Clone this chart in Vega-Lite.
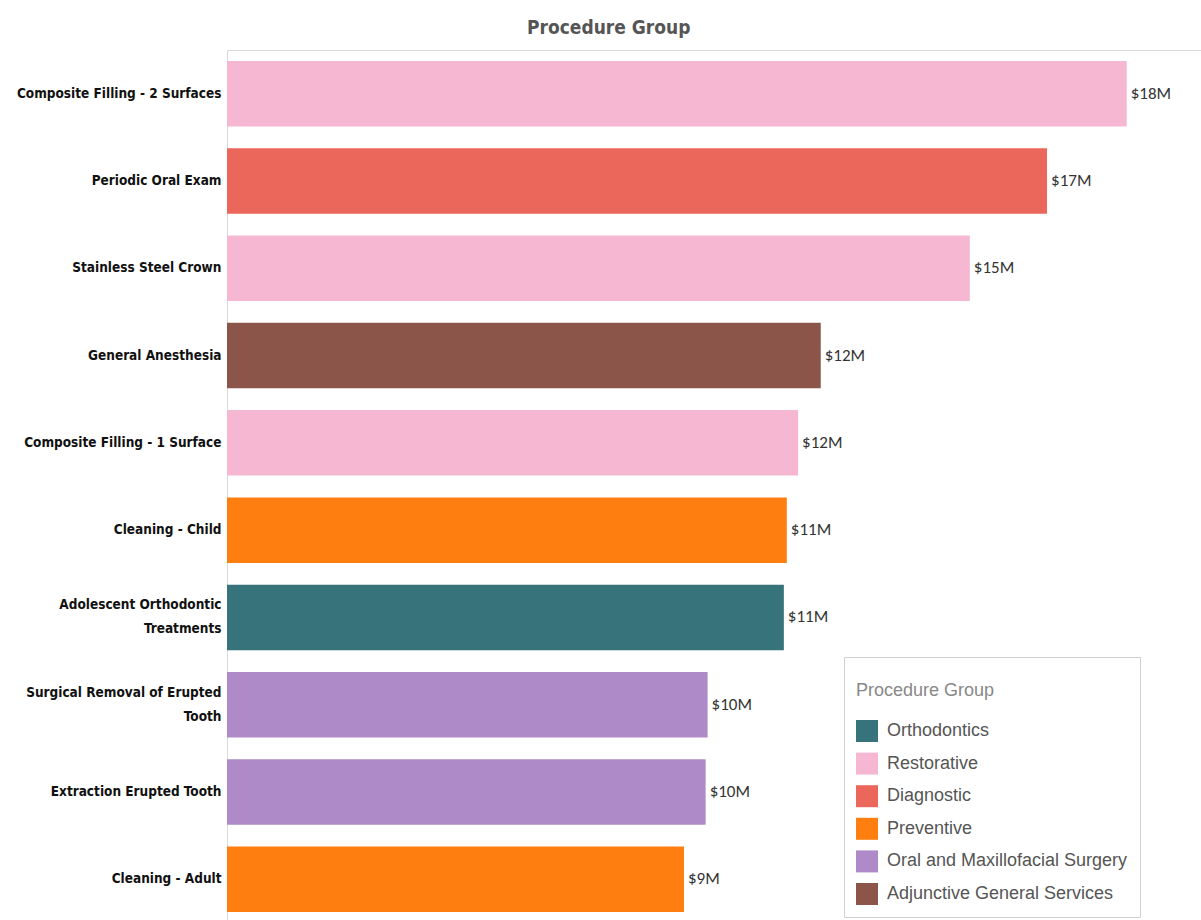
{
  "$schema": "https://vega.github.io/schema/vega-lite/v6.json",
  "width": 974,
  "height": 873,
  "autosize": {"type": "none"},
  "padding": {"left": 227, "top": 50, "right": 0, "bottom": 0},
  "background": "white",
  "title": {
    "text": "Procedure Group",
    "anchor": "middle",
    "frame": "bounds",
    "font": "DejaVu Sans Condensed, sans-serif",
    "fontSize": 19,
    "fontWeight": "bold",
    "color": "#555555",
    "offset": 12
  },
  "data": {
    "values": [
      {"procedure": "Composite Filling - 2 Surfaces", "group": "Restorative", "amount": 18290000},
      {"procedure": "Periodic Oral Exam", "group": "Diagnostic", "amount": 16670000},
      {"procedure": "Stainless Steel Crown", "group": "Restorative", "amount": 15100000},
      {"procedure": "General Anesthesia", "group": "Adjunctive General Services", "amount": 12070000},
      {"procedure": "Composite Filling - 1 Surface", "group": "Restorative", "amount": 11610000},
      {"procedure": "Cleaning - Child", "group": "Preventive", "amount": 11380000},
      {"procedure": "Adolescent Orthodontic Treatments", "group": "Orthodontics", "amount": 11320000},
      {"procedure": "Surgical Removal of Erupted Tooth", "group": "Oral and Maxillofacial Surgery", "amount": 9770000},
      {"procedure": "Extraction Erupted Tooth", "group": "Oral and Maxillofacial Surgery", "amount": 9730000},
      {"procedure": "Cleaning - Adult", "group": "Preventive", "amount": 9290000}
    ]
  },
  "transform": [
    {"calculate": "'$' + format(datum.amount / 1000000, '.0f') + 'M'", "as": "label"}
  ],
  "encoding": {
    "y": {
      "field": "procedure",
      "type": "nominal",
      "sort": {"field": "amount", "order": "descending"},
      "scale": {"paddingInner": 0.25, "paddingOuter": 0.125},
      "axis": {
        "title": null,
        "domain": false,
        "ticks": false,
        "labelFont": "DejaVu Sans Condensed, sans-serif",
        "labelFontSize": 13.5,
        "labelFontWeight": "bold",
        "labelColor": "#111111",
        "labelPadding": 6,
        "labelLineHeight": 24,
        "labelLimit": 300,
        "labelOffset": {
          "condition": {"test": "indexof(datum.value, 'Adolescent') >= 0 || indexof(datum.value, 'Surgical') >= 0", "value": -12},
          "value": 0
        },
        "labelExpr": "datum.value == 'Adolescent Orthodontic Treatments' ? ['Adolescent Orthodontic', 'Treatments'] : datum.value == 'Surgical Removal of Erupted Tooth' ? ['Surgical Removal of Erupted', 'Tooth'] : datum.value"
      }
    },
    "x": {
      "field": "amount",
      "type": "quantitative",
      "scale": {"domain": [0, 19800000], "nice": false},
      "axis": null
    }
  },
  "layer": [
    {
      "mark": {"type": "bar"},
      "encoding": {
        "color": {
          "field": "group",
          "type": "nominal",
          "scale": {
            "domain": ["Orthodontics", "Restorative", "Diagnostic", "Preventive", "Oral and Maxillofacial Surgery", "Adjunctive General Services"],
            "range": ["#37737a", "#f5b7d2", "#eb665b", "#fe7f10", "#ae8bc8", "#8b5649"]
          },
          "legend": {
            "title": ["", "Procedure Group"],
            "orient": "none",
            "legendX": 617,
            "legendY": 607,
            "direction": "vertical",
            "fillColor": "white",
            "strokeColor": "#d0d0d0",
            "padding": 12,
            "titleFont": "Liberation Sans, Arial, sans-serif",
            "titleFontSize": 18,
            "titleLineHeight": 13,
            "titleFontWeight": "normal",
            "titleColor": "#888888",
            "titlePadding": 20,
            "labelFont": "Liberation Sans, Arial, sans-serif",
            "labelFontSize": 18,
            "labelColor": "#555555",
            "labelOffset": 9,
            "labelLimit": 500,
            "symbolType": "square",
            "symbolSize": 484,
            "symbolStrokeWidth": 0,
            "symbolOpacity": 1,
            "rowPadding": 10.6
          }
        }
      }
    },
    {
      "mark": {"type": "text", "align": "left", "baseline": "middle", "dx": 4, "font": "Carlito, Lato, sans-serif", "fontSize": 17, "color": "#333333"},
      "encoding": {
        "text": {"field": "label", "type": "nominal"}
      }
    }
  ],
  "config": {
    "view": {"stroke": "#d9d9d9", "strokeWidth": 1}
  }
}
